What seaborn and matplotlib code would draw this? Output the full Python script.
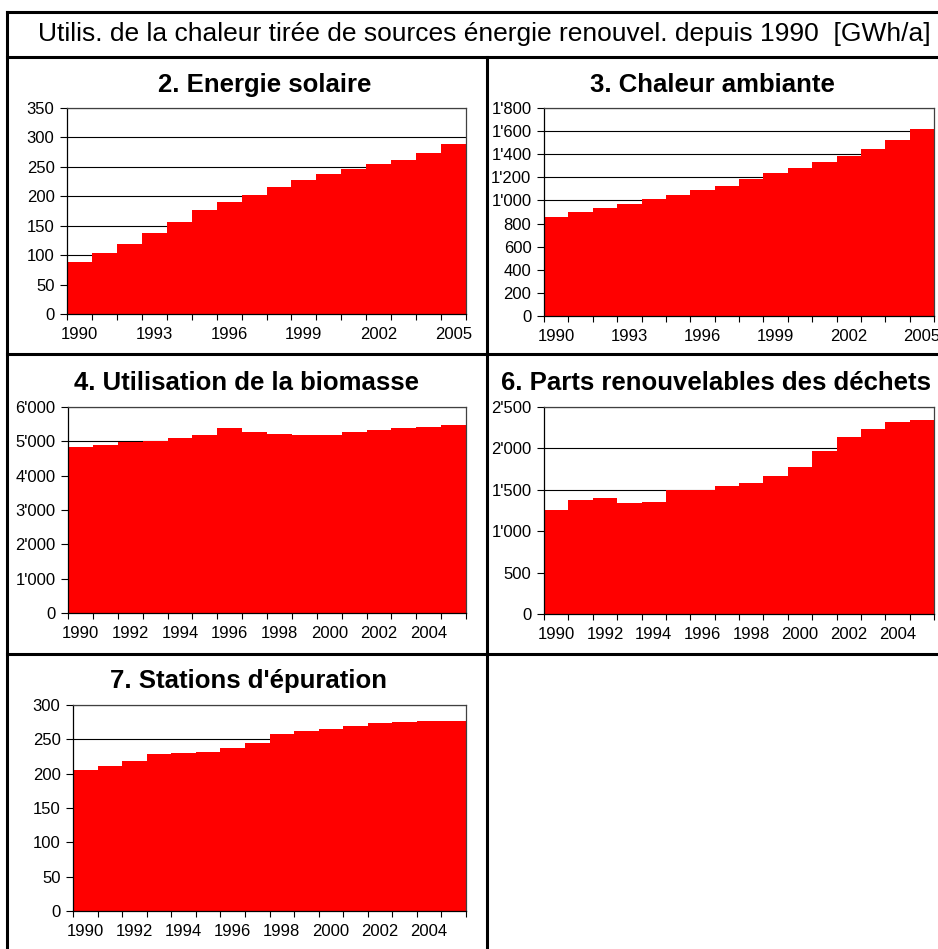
import numpy as np
import pandas as pd
import matplotlib
matplotlib.use("Agg")
import matplotlib.pyplot as plt
from matplotlib.lines import Line2D
from matplotlib.ticker import FuncFormatter
import seaborn as sns

# ---- data (GWh/a) ----
years = list(range(1990, 2006))

solaire = [88, 104, 119, 137, 156, 177, 190, 202, 216, 227, 238, 246, 255, 262, 273, 289]
ambiante = [853, 897, 931, 966, 1009, 1044, 1087, 1121, 1182, 1234, 1277, 1329, 1381, 1441, 1519, 1614]
biomasse = [4825, 4883, 4995, 5005, 5087, 5175, 5379, 5262, 5204, 5175, 5175, 5262, 5320, 5379, 5408, 5466]
dechets = [1253, 1373, 1398, 1337, 1349, 1500, 1500, 1542, 1578, 1663, 1771, 1964, 2133, 2229, 2313, 2337]
epuration = [205, 211, 218, 229, 230, 232, 237, 245, 258, 262, 265, 269, 274, 275, 277, 277]

main_title = "Utilis. de la chaleur tirée de sources énergie renouvel. depuis 1990  [GWh/a]"
panel_titles = ["2. Energie solaire", "3. Chaleur ambiante", "4. Utilisation de la biomasse",
                "6. Parts renouvelables des déchets", "7. Stations d'épuration"]
y_max = [350, 1800, 6000, 2500, 300]
y_step = [50, 200, 1000, 500, 50]
label_every = [3, 3, 2, 2, 2]
series = [solaire, ambiante, biomasse, dechets, epuration]

sns.set_theme(style="white")
plt.rcParams["font.family"] = ["Liberation Sans", "DejaVu Sans"]

W, H = 938, 949
fig = plt.figure(figsize=(W / 100, H / 100), dpi=100)
fig.patch.set_facecolor("white")


def px_rect(left, top, right, bottom):
    return [left / W, 1 - bottom / H, (right - left) / W, (bottom - top) / H]


# axes boxes in pixels: left, top, right, bottom
boxes = [
    (67, 108, 466, 314),
    (544, 108, 934, 316),
    (68, 407, 466, 613),
    (544, 407, 934, 614),
    (73, 705, 466, 911),
]
title_pos = [(265, 85), (712, 85), (247, 383), (716, 383), (248, 681)]

apos = FuncFormatter(lambda v, p: f"{int(round(v)):,}".replace(",", "'"))

for i, vals in enumerate(series):
    ax = fig.add_axes(px_rect(*boxes[i]))
    df = pd.DataFrame({"annee": years, "valeur": vals})
    sns.barplot(data=df, x="annee", y="valeur", color="#FF0000", saturation=1,
                width=1.0, linewidth=0, errorbar=None, ax=ax)
    n = len(years)
    ax.set_xlim(-0.5, n - 0.5)
    ax.set_ylim(0, y_max[i])
    ax.set_yticks(np.arange(0, y_max[i] + 1, y_step[i]))
    ax.yaxis.set_major_formatter(apos)
    ax.set_axisbelow(True)
    ax.yaxis.grid(True, color="black", linewidth=0.8)
    ax.xaxis.grid(False)
    ax.set_xlabel("")
    ax.set_ylabel("")

    # tick marks at the bar boundaries, labels centred under the bars
    ax.set_xticks(np.arange(-0.5, n, 1.0))
    ax.set_xticklabels([])
    pos = list(range(0, n, label_every[i]))
    ax.set_xticks(pos, minor=True)
    ax.set_xticklabels([str(years[k]) for k in pos], minor=True)
    ax.tick_params(axis="x", which="major", direction="out", length=4, width=0.8,
                   color="black", bottom=True)
    ax.tick_params(axis="x", which="minor", length=0, pad=9.5, labelsize=12,
                   labelcolor="black", bottom=True)
    ax.tick_params(axis="y", direction="out", length=5, width=0.8, color="black",
                   pad=4, labelsize=12, labelcolor="black", left=True)

    for side in ["left", "bottom"]:
        ax.spines[side].set_color("black")
        ax.spines[side].set_linewidth(0.9)
    for side in ["top", "right"]:
        ax.spines[side].set_color("#404040")
        ax.spines[side].set_linewidth(0.9)
        ax.spines[side].set_visible(True)
    ax.spines["bottom"].set_zorder(5)

    tx, ty = title_pos[i]
    fig.text(tx / W, 1 - ty / H, panel_titles[i], ha="center", va="center",
             fontsize=18.5, fontweight="bold", color="black")

fig.text(484 / W, 1 - 34 / H, main_title, ha="center", va="center",
         fontsize=19, color="black")

# frame lines of the table layout
def frame_line(x0, y0, x1, y1):
    fig.add_artist(Line2D([x0 / W, x1 / W], [1 - y0 / H, 1 - y1 / H],
                          transform=fig.transFigure, color="black",
                          linewidth=2.2, solid_capstyle="projecting"))


frame_line(7, 12, W + 5, 12)
frame_line(7, 12, 7, H + 5)
frame_line(7, 57, W + 5, 57)
frame_line(487, 57, 487, H + 5)
frame_line(7, 354, W + 5, 354)
frame_line(7, 654, W + 5, 654)

fig.savefig("out.png", dpi=100, facecolor="white")
